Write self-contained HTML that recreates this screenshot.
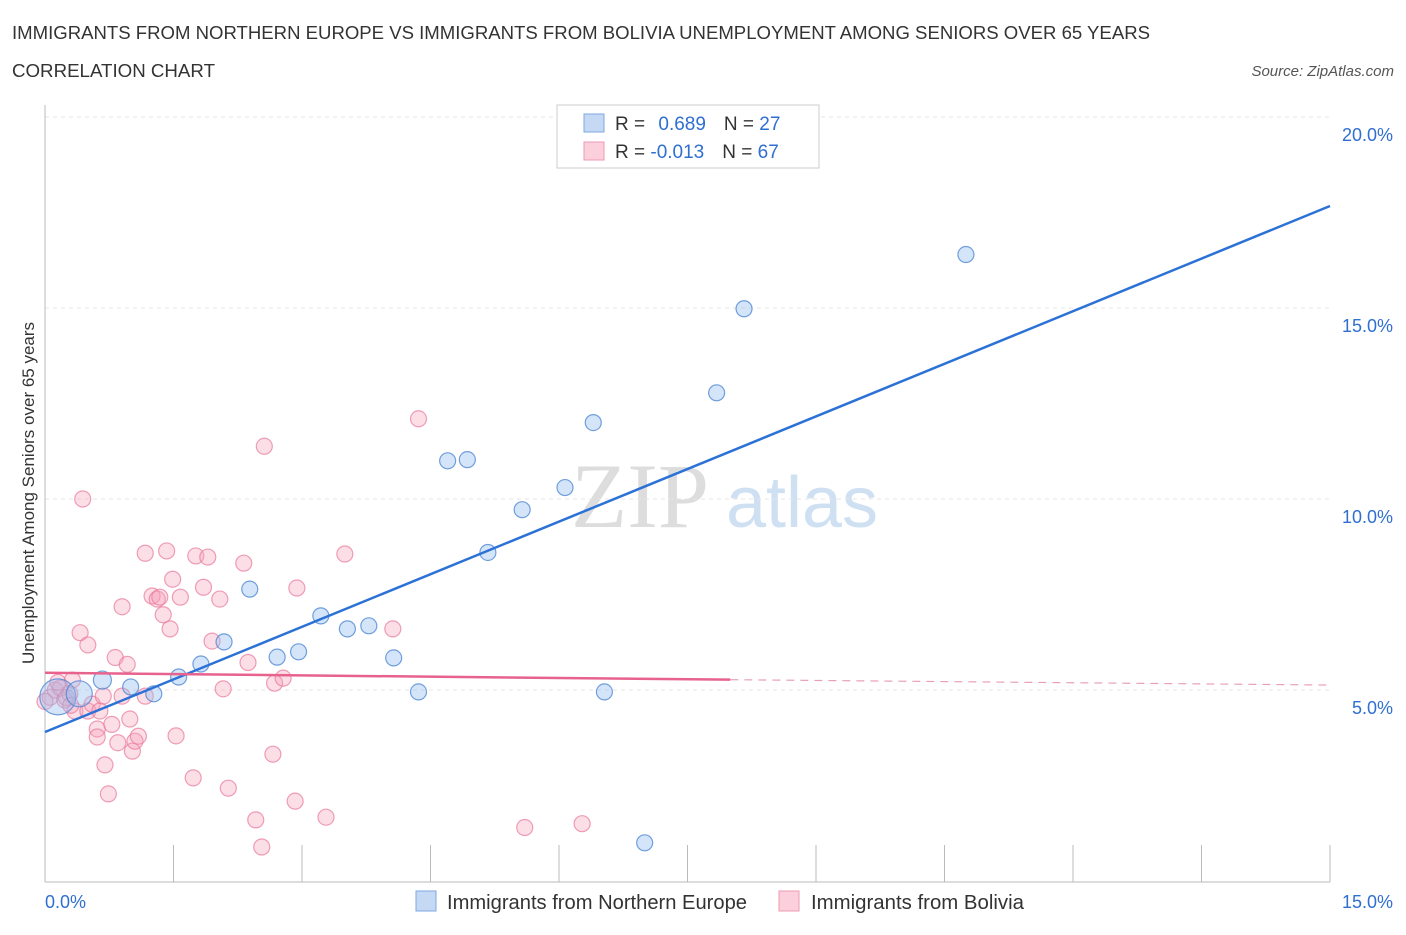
<!DOCTYPE html>
<html><head><meta charset="utf-8"><style>
body{margin:0;background:#fff;font-family:"Liberation Sans",sans-serif}
</style></head><body>
<svg width="1406" height="930" xmlns="http://www.w3.org/2000/svg" font-family="Liberation Sans, sans-serif">
<text x="12" y="39" font-size="18" fill="#333" textLength="1138" lengthAdjust="spacingAndGlyphs">IMMIGRANTS FROM NORTHERN EUROPE VS IMMIGRANTS FROM BOLIVIA UNEMPLOYMENT AMONG SENIORS OVER 65 YEARS</text>
<text x="12" y="77" font-size="18" fill="#333" textLength="203" lengthAdjust="spacingAndGlyphs">CORRELATION CHART</text>
<text x="1394" y="76" font-size="15" fill="#555" font-style="italic" text-anchor="end">Source: ZipAtlas.com</text>
<text x="640" y="527" font-size="92" fill="#ddd" font-family="Liberation Serif, serif" text-anchor="middle">ZIP</text>
<text x="802" y="527" font-size="72" fill="#cfe0f3" text-anchor="middle">atlas</text>
<g id="grid"></g>
<g id="axes"></g>
<g id="marks"></g>
<text transform="translate(34,493) rotate(-90)" font-size="17" fill="#333" text-anchor="middle">Unemployment Among Seniors over 65 years</text>
<g>
<rect x="557" y="105" width="262" height="63" fill="#fff" stroke="#ccc"/>
<rect x="584" y="114" width="20" height="18" fill="#c5d9f5" stroke="#7da7e0"/>
<rect x="584" y="142" width="20" height="18" fill="#fbd0dc" stroke="#ee9ab3"/>
<text x="615" y="130" font-size="19" fill="#333">R = <tspan fill="#2f6fd1" dx="8">0.689</tspan><tspan dx="18" fill="#333">N = </tspan><tspan fill="#2f6fd1">27</tspan></text>
<text x="615" y="158" font-size="19" fill="#333">R = <tspan fill="#2f6fd1">-0.013</tspan><tspan dx="18" fill="#333">N = </tspan><tspan fill="#2f6fd1">67</tspan></text>
</g>
<g>
<rect x="416" y="891" width="20" height="20" fill="#c5d9f5" stroke="#7da7e0"/>
<text x="447" y="909" font-size="20" fill="#333" textLength="300" lengthAdjust="spacingAndGlyphs">Immigrants from Northern Europe</text>
<rect x="779" y="891" width="20" height="20" fill="#fbd0dc" stroke="#ee9ab3"/>
<text x="811" y="909" font-size="20" fill="#333" textLength="213" lengthAdjust="spacingAndGlyphs">Immigrants from Bolivia</text>
</g>
</svg>
<script>
const yTicks=[5,10,15,20];
const yTickLabels=["5.0%","10.0%","15.0%","20.0%"];
const xTickLabels=["0.0%","15.0%"];
const blueX=[0.15,0.67,1.0,1.27,1.56,1.82,2.09,2.39,2.71,2.96,3.22,3.53,3.78,4.07,4.36,4.70,4.93,5.57,6.07,5.17,6.40,6.53,7.00,7.84,8.16,10.75,0.4];
const blueY=[4.82,5.26,5.08,4.90,5.34,5.68,6.26,7.64,5.86,6.0,6.94,6.6,6.68,5.84,4.95,11.0,11.03,9.72,10.3,8.6,12.0,4.95,1.0,12.78,14.98,16.4,4.9];
const blueR=[18,9,8,8,8,8,8,8,8,8,8,8,8,8,8,8,8,8,8,8,8,8,8,8,8,8,13];
const pinkX=[0.06,0.12,0.18,0.23,0.29,0.32,0.35,0.41,0.44,0.5,0.5,0.55,0.61,0.61,0.64,0.68,0.7,0.74,0.78,0.82,0.85,0.9,0.9,0.96,0.99,1.02,1.05,1.09,1.17,1.17,1.25,1.31,1.34,1.38,1.42,1.46,1.49,1.53,1.58,1.73,1.76,1.85,1.9,1.95,2.04,2.08,2.14,2.32,2.37,2.46,2.53,2.56,2.66,2.68,2.78,2.92,2.94,3.28,3.5,4.06,4.36,5.6,6.27,0.0,0.25,0.15,0.3];
const pinkY=[4.81,5.0,5.05,4.74,4.9,5.26,4.45,6.5,10.0,6.18,4.45,4.63,3.98,3.77,4.45,4.84,3.04,2.28,4.1,5.85,3.62,7.18,4.84,5.67,4.24,3.4,3.66,3.79,8.58,4.84,7.46,7.38,7.43,6.97,8.64,6.6,7.9,3.8,7.43,2.7,8.51,7.69,8.48,6.28,7.38,5.03,2.43,8.32,5.72,1.6,0.89,11.38,3.32,5.18,5.31,2.09,7.67,1.67,8.56,6.6,12.1,1.4,1.5,4.7,4.8,5.2,4.6];
const fitBlue=[[0,3.9],[15,17.67]];
const fitPink=[[0,5.45],[8.0,5.27],[15,5.13]];
const X=v=>45+v/15*1285, Y=v=>881-v*38.2;
const NS="http://www.w3.org/2000/svg";
function mk(p,t,a){const e=document.createElementNS(NS,t);for(const k in a)e.setAttribute(k,a[k]);p.appendChild(e);return e;}
const grid=document.getElementById('grid'),axes=document.getElementById('axes'),marks=document.getElementById('marks');
yTicks.forEach((t,i)=>{
 const g=mk(grid,'line',{x1:45,x2:1330,y1:Y(t),y2:Y(t),stroke:'#e4e4e4','stroke-dasharray':'4,4'});
 
 
 const l=mk(axes,'text',{x:1393,y:Y(t)+24,'font-size':18,fill:'#2f6fd1','text-anchor':'end'});
 l.textContent=yTickLabels[i];
 
 
});
const ya=mk(axes,'line',{x1:45,x2:45,y1:105,y2:882,stroke:'#bbb'});


const xa=mk(axes,'line',{x1:45,x2:1330,y1:882,y2:882,stroke:'#bbb'});


for(let i=0;i<=10;i++){const t=mk(axes,'line',{x1:X(i*1.5),x2:X(i*1.5),y1:845,y2:882,stroke:'#bbb'});
 
 }
[[0,'start',45],[15,'end',1393]].forEach((d,i)=>{const l=mk(axes,'text',{x:d[2],y:908,'font-size':18,fill:'#2f6fd1','text-anchor':d[1]});
 l.textContent=xTickLabels[i];
 
 });
pinkX.forEach((x,i)=>{const c=mk(marks,'circle',{cx:X(x),cy:Y(pinkY[i]),r:8,fill:'rgba(246,160,185,0.35)',stroke:'rgba(232,120,155,0.7)','stroke-width':1.2});
 
 });
blueX.forEach((x,i)=>{const c=mk(marks,'circle',{cx:X(x),cy:Y(blueY[i]),r:blueR[i],fill:'rgba(150,190,240,0.4)',stroke:'rgba(70,130,210,0.75)','stroke-width':1.2});
 
 });
const bl=mk(marks,'line',{x1:X(fitBlue[0][0]),y1:Y(fitBlue[0][1]),x2:X(fitBlue[1][0]),y2:Y(fitBlue[1][1]),stroke:'#2c72d6','stroke-width':2.5});


const pl=mk(marks,'line',{x1:X(fitPink[0][0]),y1:Y(fitPink[0][1]),x2:X(fitPink[1][0]),y2:Y(fitPink[1][1]),stroke:'#e8628e','stroke-width':2.5});


const pd=mk(marks,'line',{x1:X(fitPink[1][0]),y1:Y(fitPink[1][1]),x2:X(fitPink[2][0]),y2:Y(fitPink[2][1]),stroke:'#e8a0b8','stroke-width':1.2,'stroke-dasharray':'8,6'});


</script>
</body></html>
